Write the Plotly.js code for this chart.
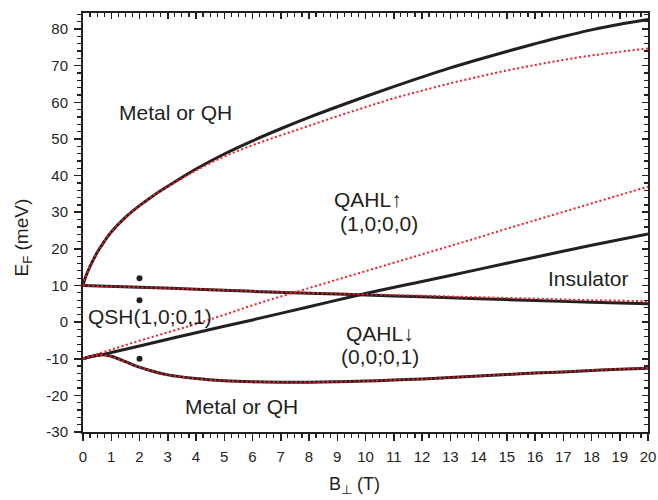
<!DOCTYPE html>
<html>
<head>
<meta charset="utf-8">
<script src="https://cdn.plot.ly/plotly-3.0.1.min.js"></script>
<style>html,body{margin:0;padding:0;background:#fff;}#chart{width:658px;height:500px;}</style>
</head>
<body>
<div id="chart"></div>
<script>
// Upper boundary (black solid) and its red dotted counterpart
const topX = [0,0.1,0.25,0.5,0.75,1,1.5,2,2.5,3,3.5,4,5,6,7,8,9,10,11,12,13,14,15,16,17,18,19,20];
const topBlackY = [10,12.5,15.2,19.0,22.0,24.6,28.6,31.8,34.6,37.1,39.5,41.8,45.9,49.5,52.8,55.9,58.8,61.6,64.3,66.9,69.4,71.7,73.9,76.0,78.0,79.8,81.3,82.6];
const topRedY   = [10,12.5,15.2,19.0,22.0,24.6,28.6,31.8,34.6,37.0,39.2,41.4,45.2,48.3,51.0,53.6,56.2,58.7,61.1,63.2,65.2,67.0,68.7,70.2,71.6,72.8,73.8,74.7];

// Near-horizontal line starting at +10 meV
const midX = [0,2,4,6,8,10,12,14,16,18,20];
const midBlackY = [10,9.5,9.0,8.4,7.9,7.4,6.9,6.4,5.9,5.4,5.0];
const midRedY   = [10,9.5,9.0,8.5,8.0,7.6,7.2,6.8,6.4,6.0,5.7];

// Rising line starting at -10 meV
const riseBlackX = [0,0.3,0.66,1,2,4,6,8,10,12,14,16,18,20];
const riseBlackY = [-10,-9.4,-8.9,-8.3,-6.5,-2.9,0.6,4.2,7.8,11.1,14.4,17.7,21.0,24.1];
const riseRedX = [0,1,2,3,4,5,6,7,8,9,10,11,12,13,14,15,16,17,18,19,20];
const riseRedY = [-10,-7.5,-5.1,-2.8,-0.5,2.0,4.6,7.0,9.3,11.6,13.9,16.2,18.5,20.8,23.1,25.5,27.8,30.1,32.4,34.7,37.0];

// Lower boundary
const lowX = [0,0.3,0.66,1,1.5,2,2.5,3,4,5,6,7,8,9,10,11,12,13,14,15,16,17,18,19,20];
const lowBlackY = [-10,-9.4,-8.9,-9.3,-10.8,-12.3,-13.5,-14.4,-15.4,-16.0,-16.3,-16.4,-16.4,-16.3,-16.1,-15.8,-15.5,-15.1,-14.7,-14.3,-13.9,-13.6,-13.2,-12.9,-12.6];
const lowRedY   = [-10,-9.4,-9.0,-9.4,-10.9,-12.3,-13.5,-14.4,-15.4,-16.0,-16.3,-16.4,-16.4,-16.3,-16.1,-15.8,-15.5,-15.1,-14.7,-14.3,-13.9,-13.5,-13.1,-12.8,-12.5];

// Marked points
const dotX = [2,2,2];
const dotY = [12,6,-10];

// Tick labels
const xTickVals = [0,1,2,3,4,5,6,7,8,9,10,11,12,13,14,15,16,17,18,19,20];
const xTickText = ["0","1","2","3","4","5","6","7","8","9","10","11","12","13","14","15","16","17","18","19","20"];
const yTickVals = [-30,-20,-10,0,10,20,30,40,50,60,70,80];
const yTickText = ["-30","-20","-10","0","10","20","30","40","50","60","70","80"];

// Axis titles
const xTitle = "B<sub>⊥</sub> (T)";
const yTitle = "E<sub>F</sub> (meV)";

// Region labels
const labelText = ["Metal or QH","QAHL↑","(1,0;0,0)","Insulator","QSH(1,0;0,1)","QAHL↓","(0,0;0,1)","Metal or QH"];
const labelX = [3.27,10.1,10.46,17.9,2.37,10.51,10.53,5.62];
const labelY = [57.2,33.4,27.0,11.9,1.6,-3.1,-9.5,-23.0];

const INK = '#231f20';
const RED = '#ee1c24';
const FONT = '"Liberation Sans", Arial, sans-serif';

function blk(x,y){return {x:x,y:y,type:'scatter',mode:'lines',line:{color:INK,width:3,shape:'spline',smoothing:1},hoverinfo:'skip',showlegend:false};}
function red(x,y){return {x:x,y:y,type:'scatter',mode:'lines',line:{color:RED,width:2,dash:'2px,2.5px',shape:'spline',smoothing:1},hoverinfo:'skip',showlegend:false};}

const traces = [
  blk(topX, topBlackY), blk(midX, midBlackY), blk(riseBlackX, riseBlackY), blk(lowX, lowBlackY),
  red(topX, topRedY), red(midX, midRedY), red(riseRedX, riseRedY), red(lowX, lowRedY),
  {x:dotX,y:dotY,type:'scatter',mode:'markers',marker:{color:INK,size:6},showlegend:false},
  {x:[],y:[],xaxis:'x2',yaxis:'y2',type:'scatter',mode:'markers',showlegend:false}
];

const tickFont = {family:FONT, size:15, color:INK};
const XR = [0,20], YR = [-30,84.4];

const annots = labelText.map((t,i)=>({text:t, x:labelX[i], y:labelY[i], xref:'x', yref:'y',
      showarrow:false, xanchor:'center', yanchor:'middle',
      font:{family:FONT, size:21, color:INK}}));
annots.push({text:xTitle, xref:'paper', yref:'paper', x:0.481, y:-0.127, xanchor:'center', yanchor:'middle',
      showarrow:false, font:{family:FONT, size:18, color:INK}});
annots.push({text:yTitle, xref:'paper', yref:'paper', x:-0.107, y:0.463, xanchor:'center', yanchor:'middle',
      textangle:-90, showarrow:false, font:{family:FONT, size:19, color:INK}});

const layout = {
  width:658, height:500,
  margin:{l:83, r:10, t:13, b:68},
  paper_bgcolor:'#fff', plot_bgcolor:'#fff',
  showlegend:false,
  font:{family:FONT, color:INK},
  xaxis:{range:XR, tickmode:'array', tickvals:xTickVals, ticktext:xTickText,
         ticks:'outside', ticklen:7, tickwidth:1.5, tickcolor:INK,
         minor:{tickmode:'linear', tick0:0, dtick:0.25, ticks:'outside', ticklen:4, tickwidth:1.2, tickcolor:INK, showgrid:false},
         showline:true, linewidth:2, linecolor:INK, showgrid:false, zeroline:false,
         tickfont:tickFont, ticklabelstandoff:3},
  yaxis:{range:YR, tickmode:'array', tickvals:yTickVals, ticktext:yTickText,
         ticks:'outside', ticklen:7, tickwidth:1.5, tickcolor:INK,
         minor:{tickmode:'linear', tick0:0, dtick:2, ticks:'outside', ticklen:4, tickwidth:1.2, tickcolor:INK, showgrid:false},
         showline:true, linewidth:2, linecolor:INK, showgrid:false, zeroline:false,
         tickfont:tickFont, ticklabelstandoff:3},
  xaxis2:{range:XR, overlaying:'x', side:'top', anchor:'y', dtick:1, tick0:0, ticks:'inside', ticklen:6, tickwidth:1.5, tickcolor:INK,
         minor:{dtick:0.25, ticks:'inside', ticklen:4, tickwidth:1.2, tickcolor:INK, showgrid:false},
         showticklabels:false, showline:true, linewidth:2, linecolor:INK, showgrid:false, zeroline:false},
  yaxis2:{range:YR, overlaying:'y', side:'right', anchor:'x', dtick:10, tick0:0, ticks:'inside', ticklen:6, tickwidth:1.5, tickcolor:INK,
         minor:{dtick:2, ticks:'inside', ticklen:4, tickwidth:1.2, tickcolor:INK, showgrid:false},
         showticklabels:false, showline:true, linewidth:2, linecolor:INK, showgrid:false, zeroline:false},
  annotations: annots
};

Plotly.newPlot('chart', traces, layout, {staticPlot:true, displayModeBar:false});
</script>
</body>
</html>
